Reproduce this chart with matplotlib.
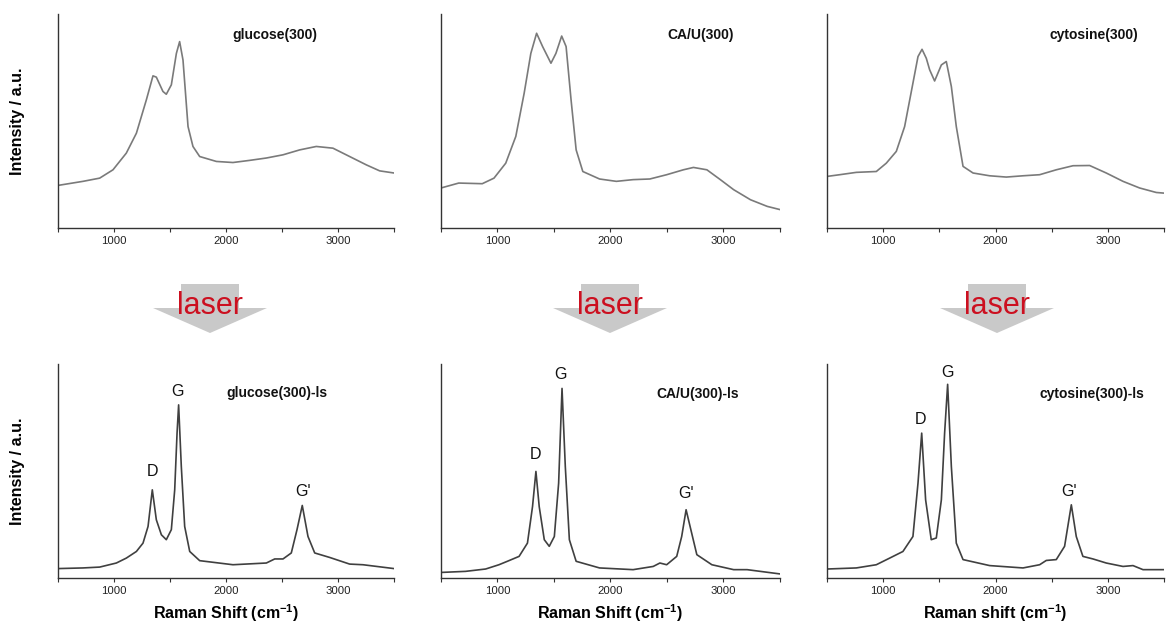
import matplotlib
matplotlib.use("Agg")
import matplotlib.pyplot as plt
from matplotlib.patches import Polygon

plt.rcParams['font.family'] = ['Liberation Sans', 'DejaVu Sans']
plt.rcParams['mathtext.fontset'] = 'custom'
plt.rcParams['mathtext.rm'] = 'Liberation Sans'
plt.rcParams['mathtext.bf'] = 'Liberation Sans:bold'

# ---------------- data ----------------
# Top row: pristine samples
glucose_x = [500, 723, 872, 991, 1110, 1200, 1289, 1348, 1378, 1437, 1467, 1512, 1557, 1586, 1616, 1661,
             1705, 1765, 1914, 2062, 2211, 2360, 2509, 2658, 2806, 2955, 3104, 3253, 3372, 3500]
glucose_y = [19.9, 21.8, 23.3, 27.2, 35.0, 44.3, 59.9, 71.1, 70.5, 63.8, 62.5, 66.9, 81.6, 87.1, 78.5, 47.4,
             38.1, 33.4, 31.1, 30.6, 31.6, 32.7, 34.2, 36.5, 38.1, 37.3, 33.4, 29.5, 26.7, 25.7]

cau_x = [500, 657, 865, 969, 1073, 1162, 1236, 1295, 1346, 1399, 1473, 1517, 1568, 1607, 1651, 1696,
         1755, 1903, 2052, 2200, 2348, 2497, 2645, 2734, 2853, 2972, 3090, 3239, 3387, 3500]
cau_y = [18.7, 21.0, 20.7, 23.3, 30.3, 42.8, 63.0, 81.6, 91.0, 84.8, 77.0, 81.6, 89.7, 84.8, 59.9, 36.5,
         26.4, 22.9, 21.8, 22.6, 22.9, 24.9, 27.2, 28.3, 27.2, 22.6, 17.9, 13.2, 10.1, 8.6]

cyt_x = [500, 613, 761, 939, 1028, 1117, 1191, 1265, 1310, 1346, 1384, 1414, 1458, 1518, 1562, 1607,
         1651, 1711, 1800, 1948, 2096, 2245, 2393, 2541, 2690, 2838, 2986, 3135, 3283, 3431, 3500]
cyt_y = [24.1, 24.9, 26.0, 26.4, 30.3, 35.8, 47.4, 67.7, 80.1, 83.5, 79.3, 73.9, 68.7, 76.2, 77.8, 66.1,
         47.4, 28.8, 25.7, 24.4, 23.8, 24.4, 24.9, 27.2, 29.1, 29.2, 25.7, 21.8, 18.7, 16.6, 16.3]

# Bottom row: laser scribed samples
glucose_ls_x = [500, 723, 872, 1021, 1110, 1200, 1259, 1304, 1342, 1378, 1423, 1467, 1512, 1542, 1563, 1577,
                1601, 1631, 1676, 1765, 2062, 2360, 2435, 2509, 2583, 2634, 2681, 2732, 2792, 2926, 3104,
                3223, 3500]
glucose_ls_y = [4.4, 4.7, 5.1, 7.0, 9.3, 12.4, 16.3, 24.1, 41.2, 27.2, 20.2, 17.9, 22.6, 41.2, 67.7, 80.9,
                52.1, 24.1, 12.4, 8.1, 6.2, 7.0, 8.9, 8.9, 11.7, 22.6, 33.9, 19.4, 11.7, 9.6, 6.5,
                6.2, 4.4]

cau_ls_x = [500, 717, 895, 1013, 1087, 1191, 1265, 1310, 1340, 1369, 1414, 1458, 1503, 1541, 1571, 1600,
            1636, 1696, 1903, 2200, 2378, 2437, 2497, 2586, 2630, 2669, 2711, 2764, 2897, 3090, 3209, 3500]
cau_ls_y = [2.6, 3.1, 4.2, 6.2, 7.8, 10.1, 16.3, 33.4, 49.8, 33.4, 17.9, 14.8, 19.4, 44.3, 88.6, 52.1,
            17.9, 7.8, 4.7, 3.9, 5.4, 7.0, 6.2, 10.1, 19.4, 31.9, 22.6, 10.9, 6.2, 3.9, 3.9, 1.9]

cyt_ls_x = [500, 761, 939, 1058, 1176, 1265, 1310, 1343, 1378, 1428, 1473, 1518, 1547, 1574, 1607, 1651,
            1711, 1948, 2245, 2393, 2452, 2541, 2615, 2675, 2719, 2778, 2868, 2986, 3135, 3224, 3313, 3500]
cyt_ls_y = [4.2, 4.7, 6.2, 9.3, 12.4, 19.4, 44.3, 67.7, 36.5, 17.9, 18.7, 36.5, 67.7, 90.5, 52.1, 16.3,
            8.6, 5.8, 4.7, 6.2, 8.2, 8.6, 14.8, 34.2, 19.4, 10.1, 8.9, 7.0, 5.4, 5.8, 3.9, 3.9]

top_titles = ["glucose(300)", "CA/U(300)", "cytosine(300)"]
bottom_titles = ["glucose(300)-ls", "CA/U(300)-ls", "cytosine(300)-ls"]
bottom_xlabels = [r"Raman Shift (cm$^{\mathbf{-1}}$)", r"Raman Shift (cm$^{\mathbf{-1}}$)",
                  r"Raman shift (cm$^{\mathbf{-1}}$)"]
peak_names = ["D", "G", "G'"]
peak_label_x = [[1348, 1571, 2687], [1334, 1556, 2669], [1331, 1574, 2654]]
peak_label_y = [[49.8, 87.1, 40.4], [57.5, 95.3, 39.3], [73.9, 96.0, 40.4]]
major_ticks = [1000, 2000, 3000]
minor_ticks = [500, 1500, 2500, 3500]

top_series = [(glucose_x, glucose_y), (cau_x, cau_y), (cyt_x, cyt_y)]
bottom_series = [(glucose_ls_x, glucose_ls_y), (cau_ls_x, cau_ls_y), (cyt_ls_x, cyt_ls_y)]

# ---------------- layout ----------------
W, H = 1167, 623
fig = plt.figure(figsize=(W / 100, H / 100), dpi=100)
fig.patch.set_facecolor("white")

col_px = [(58, 336), (441, 339), (827, 337)]
top_px = (14, 228)
bot_px = (364, 578)
title_pos_top = [(0.52, 0.90), (0.667, 0.90), (0.66, 0.90)]
title_pos_bot = [(0.50, 0.865), (0.636, 0.862), (0.63, 0.858)]


def make_ax(left, width, top, bottom):
    return fig.add_axes([left / W, 1 - bottom / H, width / W, (bottom - top) / H])


def style(ax):
    ax.set_xlim(500, 3500)
    ax.set_ylim(0, 100)
    for s in ("top", "right"):
        ax.spines[s].set_visible(False)
    for s in ("left", "bottom"):
        ax.spines[s].set_color("#333333")
        ax.spines[s].set_linewidth(1.0)
    ax.set_yticks([])
    ax.set_xticks(major_ticks)
    ax.set_xticks(minor_ticks, minor=True)
    ax.tick_params(axis="x", which="both", direction="out", length=3, width=0.8,
                   colors="#333333", labelsize=8.2, labelcolor="#222222", pad=3)


for i, (lx, wd) in enumerate(col_px):
    ax = make_ax(lx, wd, *top_px)
    style(ax)
    x, y = top_series[i]
    ax.plot(x, y, color="#7a7a7a", lw=1.2)
    ax.text(*title_pos_top[i], top_titles[i], transform=ax.transAxes, fontsize=10,
            fontweight="bold", ha="left", va="center", color="#111111")
    if i == 0:
        ax.set_ylabel("Intensity / a.u.", fontsize=11.5, fontweight="bold", labelpad=24)

    ax2 = make_ax(lx, wd, *bot_px)
    style(ax2)
    x, y = bottom_series[i]
    ax2.plot(x, y, color="#404040", lw=1.2)
    ax2.text(*title_pos_bot[i], bottom_titles[i], transform=ax2.transAxes, fontsize=10,
             fontweight="bold", ha="left", va="center", color="#111111")
    for name, px, py in zip(peak_names, peak_label_x[i], peak_label_y[i]):
        ax2.text(px, py, name, fontsize=11.5, ha="center", va="center", color="#111111")
    ax2.set_xlabel(bottom_xlabels[i], fontsize=11.5, fontweight="bold", labelpad=4.5)
    if i == 0:
        ax2.set_ylabel("Intensity / a.u.", fontsize=11.5, fontweight="bold", labelpad=24)

# ---------------- laser arrows ----------------
arrow_centers = [210, 610, 997]
for cx in arrow_centers:
    pts = [(cx - 29, 284), (cx + 29, 284), (cx + 29, 308), (cx + 57, 308),
           (cx, 333), (cx - 57, 308), (cx - 29, 308)]
    poly = Polygon([(px / W, 1 - py / H) for px, py in pts], closed=True,
                   transform=fig.transFigure, facecolor="#c9c9c9", edgecolor="none")
    fig.patches.append(poly)
    fig.text(cx / W, 1 - 306 / H, "laser", fontsize=22, color="#cc1020",
             ha="center", va="center")

fig.savefig("out.png", dpi=100, facecolor="white")
